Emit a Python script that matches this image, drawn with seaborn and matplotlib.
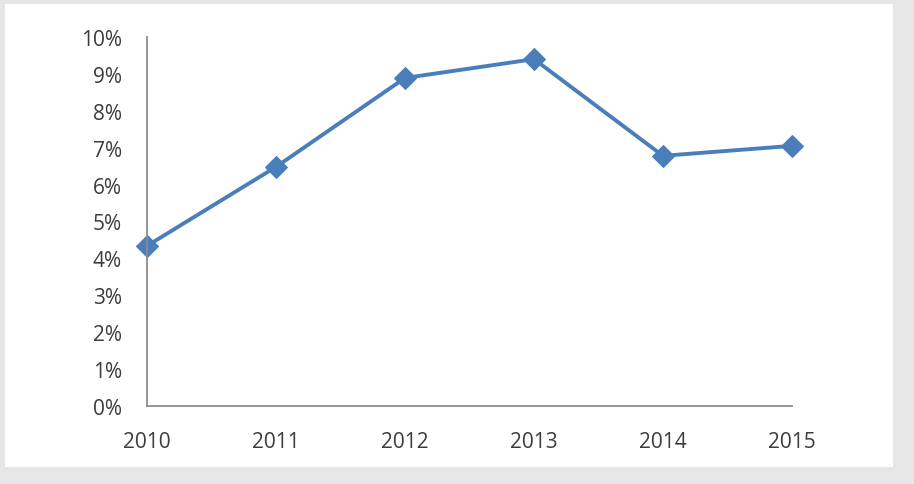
import numpy as np
import pandas as pd
import matplotlib.pyplot as plt
import matplotlib.patches as mpatches
from matplotlib.ticker import PercentFormatter
import seaborn as sns

years = [2010, 2011, 2012, 2013, 2014, 2015]
rates = [0.0434, 0.0648, 0.0889, 0.0940, 0.0678, 0.0705]
y_ticks = np.arange(0, 0.101, 0.01)

df = pd.DataFrame({"year": years, "rate": rates})

sns.set_style("white")
plt.rcParams["font.family"] = ["Open Sans", "DejaVu Sans"]

fig = plt.figure(figsize=(9.14, 4.85), dpi=100)
fig.patch.set_facecolor("#e6e6e6")
# white inner panel, behind the axes
fig.patches.append(mpatches.Rectangle((5 / 914, 17 / 485), 888 / 914, 463 / 485,
                                      transform=fig.transFigure, facecolor="white",
                                      edgecolor="none", zorder=-1))

ax = fig.add_axes([147 / 914, 78 / 485, 645 / 914, 369 / 485])
ax.set_facecolor("white")

sns.lineplot(data=df, x="year", y="rate", ax=ax, color="#4a7ebb", linewidth=2.8,
             marker="D", markersize=11, markeredgecolor="#4a7ebb", clip_on=False)

ax.set_xlim(2010, 2015)
ax.set_ylim(0, 0.10)
ax.set_xticks(years)
ax.set_xticklabels([str(y) for y in years])
ax.set_yticks(y_ticks)
ax.yaxis.set_major_formatter(PercentFormatter(1.0, decimals=0))
ax.set_xlabel("")
ax.set_ylabel("")

for side in ["top", "right"]:
    ax.spines[side].set_visible(False)
for side in ["left", "bottom"]:
    ax.spines[side].set_color("#8c8c8c")
    ax.spines[side].set_linewidth(1.3)

ax.tick_params(axis="both", length=0, labelsize=15, labelcolor="#3c3c3c")
ax.tick_params(axis="y", pad=18)
ax.tick_params(axis="x", pad=18)

fig.savefig("out.png", dpi=100, facecolor=fig.get_facecolor())
